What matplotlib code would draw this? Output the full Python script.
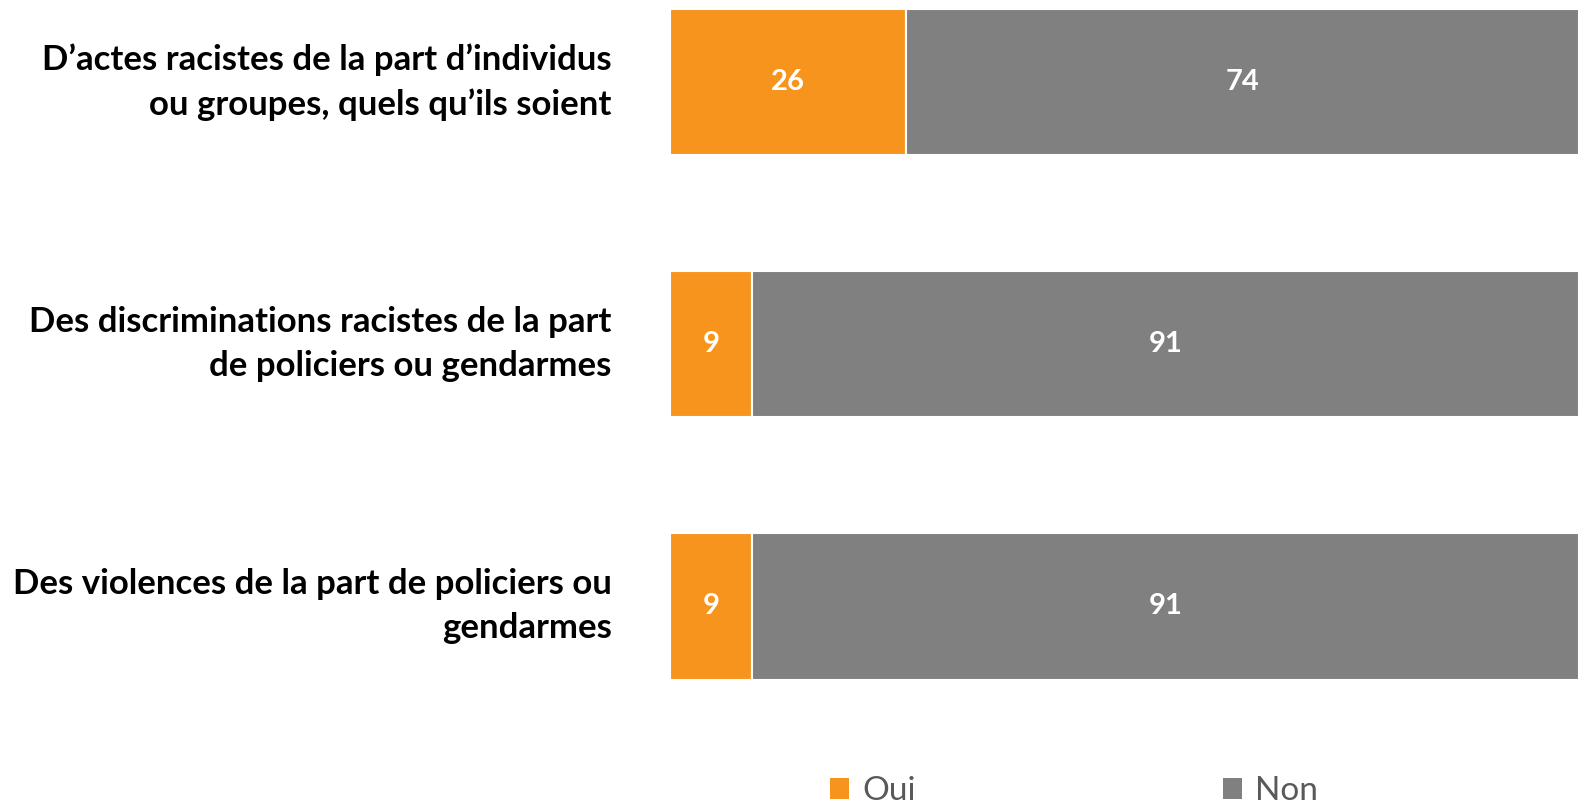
import numpy as np
import matplotlib.pyplot as plt
from matplotlib.patches import Patch

# Categories and values (%)
categories = [
    "D\u2019actes racistes de la part d\u2019individus\nou groupes, quels qu\u2019ils soient",
    "Des discriminations racistes de la part\nde policiers ou gendarmes",
    "Des violences de la part de policiers ou\ngendarmes",
]
oui = [26, 9, 9]
non = [74, 91, 91]
series_names = ["Oui", "Non"]

orange = "#F7941E"
gray = "#808080"

plt.rcParams['font.family'] = ['Lato', 'DejaVu Sans']

fig = plt.figure(figsize=(15.79, 8.05), dpi=100)
ax = fig.add_axes([670 / 1579, 0.1168, 909 / 1579, 0.8832])

y = np.arange(len(categories))
h = 0.56
ax.barh(y, oui, height=h, color=orange, edgecolor="white", linewidth=1.5)
ax.barh(y, non, left=oui, height=h, color=gray, edgecolor="white", linewidth=1.5)

for i in range(len(categories)):
    ax.text(oui[i] / 2, y[i], str(oui[i]), ha="center", va="center",
            color="white", fontsize=21, fontweight="bold")
    ax.text(oui[i] + non[i] / 2, y[i], str(non[i]), ha="center", va="center",
            color="white", fontsize=21, fontweight="bold")

ax.set_xlim(0, 100)
ax.set_ylim(2.4, -0.313)
ax.set_yticks(y)
ax.set_yticklabels(categories, fontsize=25, fontweight="bold", color="black",
                   linespacing=1.45, va="center")
ax.tick_params(axis="y", length=0, pad=42)
ax.set_xticks([])
for s in ax.spines.values():
    s.set_visible(False)

handles = [Patch(facecolor=orange), Patch(facecolor=gray)]
fig.legend(handles, series_names, loc="center", bbox_to_anchor=(1074 / 1579, 1 - 791 / 805),
           ncol=2, frameon=False, fontsize=24, labelcolor="#595959",
           handlelength=0.58, handleheight=0.58, handletextpad=0.4, columnspacing=9.2)

fig.savefig("out.png", dpi=100)
